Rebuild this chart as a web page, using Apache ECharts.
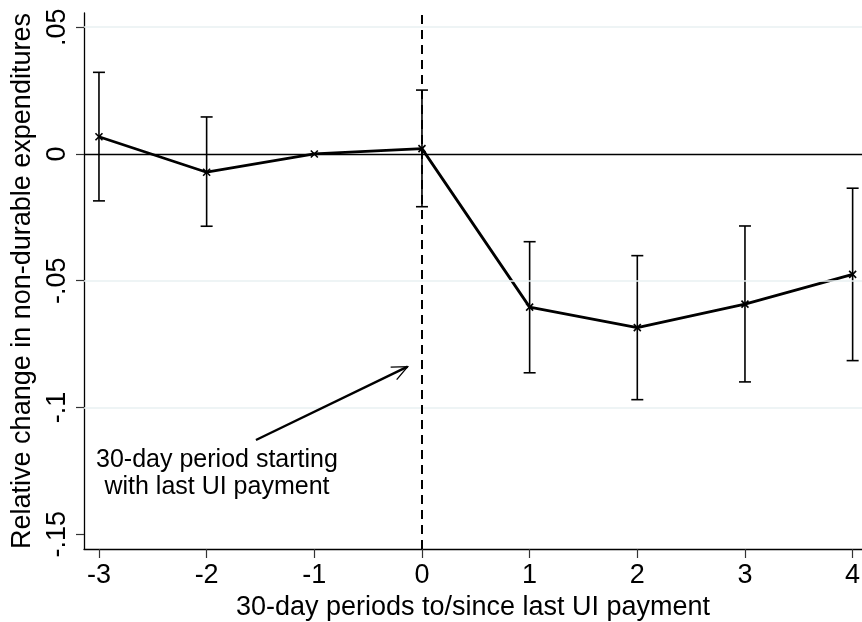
<!DOCTYPE html>
<html>
<head>
<meta charset="utf-8">
<script src="https://cdn.jsdelivr.net/npm/echarts@6/dist/echarts.min.js"></script>
<style>
  html, body { margin: 0; padding: 0; background: #fff; }
  #chart { width: 862px; height: 622px; }
</style>
</head>
<body>
<div id="chart"></div>
<script>
// Event-study estimates: 30-day periods relative to the last UI payment
const periods   = [-3, -2, -1, 0, 1, 2, 3, 4];
const estimate  = [0.0068, -0.0072, 0, 0.0021, -0.0604, -0.0685, -0.0592, -0.0475];
const ciLower   = [-0.0185, -0.0285, null, -0.0208, -0.0863, -0.0969, -0.0899, -0.0815];
const ciUpper   = [0.0322, 0.0146, null, 0.0252, -0.0346, -0.0401, -0.0284, -0.0135];

const xTicks    = [-3, -2, -1, 0, 1, 2, 3, 4];
const yTicks    = [-0.15, -0.1, -0.05, 0, 0.05];
const yGrid     = [-0.1, -0.05, 0.05];

// Annotation: text and the arrow pointing at the reference line
const noteLines = ['30-day period starting', 'with last UI payment'];
const noteAnchor = [-1.904, -0.1262];      // centre of the note text
const arrowFrom  = [-1.542, -0.1128];
const arrowTo    = [-0.133, -0.0839];

const FONT = 'Liberation Sans, Arial, Helvetica, sans-serif';

function fmtY(v) {
  if (v === 0) return '0';
  const s = String(Math.abs(v)).replace(/^0/, '');
  return (v < 0 ? '-' : '') + s;
}

const points = periods.map((p, i) => [p, estimate[i]]);
const bars = periods
  .map((p, i) => [p, ciLower[i], ciUpper[i]])
  .filter(d => d[1] !== null);

const chart = echarts.init(document.getElementById('chart'), null, { renderer: 'canvas' });

chart.setOption({
  animation: false,
  backgroundColor: '#ffffff',
  grid: { left: 84, right: 0, top: 13, bottom: 73, containLabel: false, outerBoundsMode: 'none' },
  xAxis: {
    type: 'value',
    min: -3.139,
    max: 4.087,
    name: '30-day periods to/since last UI payment',
    nameLocation: 'middle',
    nameGap: 42,
    nameTextStyle: { fontFamily: FONT, fontSize: 27, color: '#000' },
    axisLine: { show: true, onZero: false, lineStyle: { color: '#000', width: 1.3 } },
    axisTick: { show: true, inside: false, length: 9, customValues: xTicks,
                lineStyle: { color: '#333', width: 1.2 } },
    axisLabel: { customValues: xTicks, margin: 13, fontFamily: FONT, fontSize: 27, color: '#000' },
    splitLine: { show: false }
  },
  yAxis: {
    type: 'value',
    min: -0.1558,
    max: 0.0556,
    name: 'Relative change in non-durable expenditures',
    nameLocation: 'middle',
    nameRotate: 90,
    nameGap: 24,
    nameTextStyle: { fontFamily: FONT, fontSize: 27, color: '#000' },
    axisLine: { show: true, onZero: false, lineStyle: { color: '#000', width: 1.3 } },
    axisTick: { show: true, inside: false, length: 8, customValues: yTicks,
                lineStyle: { color: '#333', width: 1.2 } },
    axisLabel: { customValues: yTicks, rotate: 90, margin: 13, formatter: fmtY,
                 fontFamily: FONT, fontSize: 27, color: '#000' },
    splitLine: { show: false }
  },
  series: [
    {
      // faint horizontal grid, zero line and the dashed reference line at period 0
      type: 'line',
      data: [],
      silent: true,
      markLine: {
        silent: true,
        symbol: ['none', 'none'],
        label: { show: false },
        data: [
          ...yGrid.map(v => ({ yAxis: v, lineStyle: { color: '#e8f0f2', width: 1.5, type: 'solid' } })),
          { yAxis: 0, lineStyle: { color: '#000', width: 1.4, type: 'solid' } },
          { xAxis: 0, lineStyle: { color: '#000', width: 2, type: [9, 6] } }
        ]
      }
    },
    {
      // confidence intervals
      type: 'custom',
      data: bars,
      silent: true,
      renderItem: function (params, api) {
        const x = api.value(0);
        const lo = api.coord([x, api.value(1)]);
        const hi = api.coord([x, api.value(2)]);
        const w = 6;
        const style = { stroke: '#000', lineWidth: 1.6, fill: null };
        return {
          type: 'group',
          children: [
            { type: 'line', shape: { x1: lo[0], y1: lo[1], x2: hi[0], y2: hi[1] }, style },
            { type: 'line', shape: { x1: lo[0] - w, y1: lo[1], x2: lo[0] + w, y2: lo[1] }, style },
            { type: 'line', shape: { x1: hi[0] - w, y1: hi[1], x2: hi[0] + w, y2: hi[1] }, style }
          ]
        };
      }
    },
    {
      // point estimates joined by a line
      type: 'line',
      data: points,
      showSymbol: false,
      silent: true,
      lineStyle: { color: '#000', width: 2.8 },
      z: 3
    },
    {
      // x markers at each estimate
      type: 'custom',
      data: points,
      silent: true,
      z: 4,
      renderItem: function (params, api) {
        const c = api.coord([api.value(0), api.value(1)]);
        const r = 3.5;
        const style = { stroke: '#000', lineWidth: 1.6, fill: null };
        return {
          type: 'group',
          children: [
            { type: 'line', shape: { x1: c[0] - r, y1: c[1] - r, x2: c[0] + r, y2: c[1] + r }, style },
            { type: 'line', shape: { x1: c[0] - r, y1: c[1] + r, x2: c[0] + r, y2: c[1] - r }, style }
          ]
        };
      }
    }
  ]
});

// Annotation arrow and note placed in data coordinates
function drawNote() {
  const from = chart.convertToPixel({ gridIndex: 0 }, arrowFrom);
  const to = chart.convertToPixel({ gridIndex: 0 }, arrowTo);
  const c = chart.convertToPixel({ gridIndex: 0 }, noteAnchor);
  const ang = Math.atan2(to[1] - from[1], to[0] - from[0]);
  const hl = 17, ha = 0.42;
  const h1 = [to[0] - hl * Math.cos(ang - ha), to[1] - hl * Math.sin(ang - ha)];
  const h2 = [to[0] - hl * Math.cos(ang + ha), to[1] - hl * Math.sin(ang + ha)];
  chart.setOption({
    graphic: [
      { type: 'line', shape: { x1: from[0], y1: from[1], x2: to[0], y2: to[1] },
        style: { stroke: '#000', lineWidth: 2.4 }, z: 10 },
      { type: 'polyline', shape: { points: [h1, to, h2] },
        style: { stroke: '#000', lineWidth: 1.3, fill: null }, z: 10 },
      { type: 'text', x: c[0], y: c[1], z: 10,
        style: { text: noteLines.join('\n'), font: '25px ' + FONT, fill: '#000',
                 align: 'center', verticalAlign: 'middle', lineHeight: 27 } }
    ]
  });
}
drawNote();
</script>
</body>
</html>
